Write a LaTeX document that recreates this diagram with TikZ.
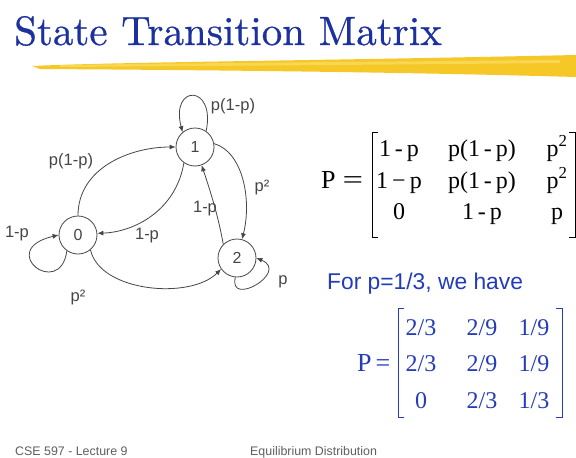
\documentclass[tikz,border=0pt]{standalone}
\usepackage{fontspec}
\newfontfamily\arialf{Liberation Sans}
\newfontfamily\tnrf{Liberation Serif}
\newfontfamily\titlef[FakeBold=0.6]{lmroman10-regular.otf}
\usetikzlibrary{arrows.meta}
\definecolor{titleblue}{RGB}{28,48,160}
\definecolor{textblue}{RGB}{35,60,185}
\definecolor{linegray}{RGB}{70,70,70}
\definecolor{brushA}{RGB}{245,200,40}
\definecolor{brushB}{RGB}{250,225,110}
\definecolor{footgray}{RGB}{95,95,95}
\tikzset{
  statenode/.style={circle,draw=linegray,line width=0.8pt,minimum size=38pt,inner sep=0pt,font=\arialf\fontsize{16}{16}\selectfont,text=linegray},
  edge/.style={draw=linegray,line width=0.8pt,-{Latex[length=6pt,width=5pt]}},
  elabel/.style={font=\arialf\fontsize{16.5}{16.5}\selectfont,text=linegray,inner sep=0pt},
  mtx/.style={font=\tnrf\fontsize{24}{24}\selectfont,inner sep=0pt,anchor=base},
  bracket/.style={line width=1pt},
  foot/.style={anchor=base west,inner sep=0pt,text=footgray,font=\arialf\fontsize{12.4}{12.4}\selectfont},
}
\begin{document}
\begin{tikzpicture}[x=1pt,y=-1pt]
\useasboundingbox (0,0) rectangle (576,458);
\fill[white] (0,0) rectangle (576,458);
% title
\node[anchor=base west,inner sep=0pt,text=titleblue,font=\titlef\fontsize{41}{41}\selectfont] (title) at (14,45) {State Transition Matrix};
% brush stroke
\fill[brushA] (32,66) .. controls (120,62) and (300,61) .. (576,55) -- (576,77) .. controls (400,72) and (200,70) .. (40,69) -- cycle;
\fill[brushB,opacity=0.6] (60,65) .. controls (200,63) and (350,62) .. (560,60) -- (560,63) .. controls (350,65) and (200,66) .. (60,67) -- cycle;
% states
\node[statenode] (n1) at (195,147) {1};
\node[statenode] (n0) at (78,235) {0};
\node[statenode] (n2) at (237,258) {2};
% edges
\draw[edge] (n1.55) .. controls (216,84) and (170,84) .. (n1.130);
\draw[edge] (n0.90) .. controls (78,168) and (130,147) .. (n1.180);
\draw[edge] (n1.235) .. controls (176,210) and (135,232) .. (n0.5);
\draw[edge] (n1.10) .. controls (243,152) and (252,200) .. (n2.75);
\draw[edge] (n2.135) .. controls (218,215) and (210,190) .. (n1.290);
\draw[edge] (n0.310) .. controls (100,292) and (190,300) .. (n2.215);
\draw[edge] (n0.235) .. controls (60,300) and (-5,250) .. (n0.180);
\draw[edge] (n2.265) .. controls (228,308) and (290,272) .. (n2.0);
% edge labels
\node[elabel] (l1) at (233,106) {p(1-p)};
\node[elabel] (l2) at (71,161) {p(1-p)};
\node[elabel] (l3) at (262,187) {p²};
\node[elabel] (l4) at (205,209) {1-p};
\node[elabel] (l5) at (147,236) {1-p};
\node[elabel] (l6) at (17,234) {1-p};
\node[elabel] (l7) at (283,282) {p};
\node[elabel] (l8) at (78,297) {p²};
% matrix 1
\node[mtx,anchor=base west,font=\tnrf\fontsize{26}{26}\selectfont] (P1) at (321,188) {P\kern7pt\scalebox{1.4}[1]{=}};
\draw[bracket] (378,132) -- (372,132) -- (372,237) -- (378,237);
\draw[bracket] (569,132) -- (575,132) -- (575,237) -- (569,237);
\node[mtx] (a11) at (399,156) {1\,-\,p};
\node[mtx] (a12) at (482,156) {p(1\,-\,p)};
\node[mtx] (a13) at (557,156) {p\textsuperscript{2}};
\node[mtx] (a21) at (399,188) {1\,\textminus\,p};
\node[mtx] (a22) at (482,188) {p(1\,-\,p)};
\node[mtx] (a23) at (557,188) {p\textsuperscript{2}};
\node[mtx] (a31) at (399,219) {0};
\node[mtx] (a32) at (482,219) {1\,-\,p};
\node[mtx] (a33) at (557,219) {p};
% for p = 1/3
\node[anchor=base west,inner sep=0pt,text=textblue,font=\arialf\fontsize{22.8}{22.8}\selectfont] (forp) at (327,289) {For p=1/3, we have};
% matrix 2
\node[mtx,anchor=base west,text=textblue,font=\tnrf\fontsize{26}{26}\selectfont] (P2) at (357,371) {P\kern4pt=};
\draw[bracket,textblue] (404,308) -- (398,308) -- (398,417) -- (404,417);
\draw[bracket,textblue] (556,308) -- (562,308) -- (562,417) -- (556,417);
\node[mtx,text=textblue] (b11) at (421,335) {2/3};
\node[mtx,text=textblue] (b12) at (482,335) {2/9};
\node[mtx,text=textblue] (b13) at (534,335) {1/9};
\node[mtx,text=textblue] (b21) at (421,371) {2/3};
\node[mtx,text=textblue] (b22) at (482,371) {2/9};
\node[mtx,text=textblue] (b23) at (534,371) {1/9};
\node[mtx,text=textblue] (b31) at (421,408) {0};
\node[mtx,text=textblue] (b32) at (482,408) {2/3};
\node[mtx,text=textblue] (b33) at (534,408) {1/3};
% footer
\node[foot] (f1) at (15,455) {CSE 597 - Lecture 9};
\node[foot] (f2) at (250,455) {Equilibrium Distribution};
\end{tikzpicture}
\end{document}
